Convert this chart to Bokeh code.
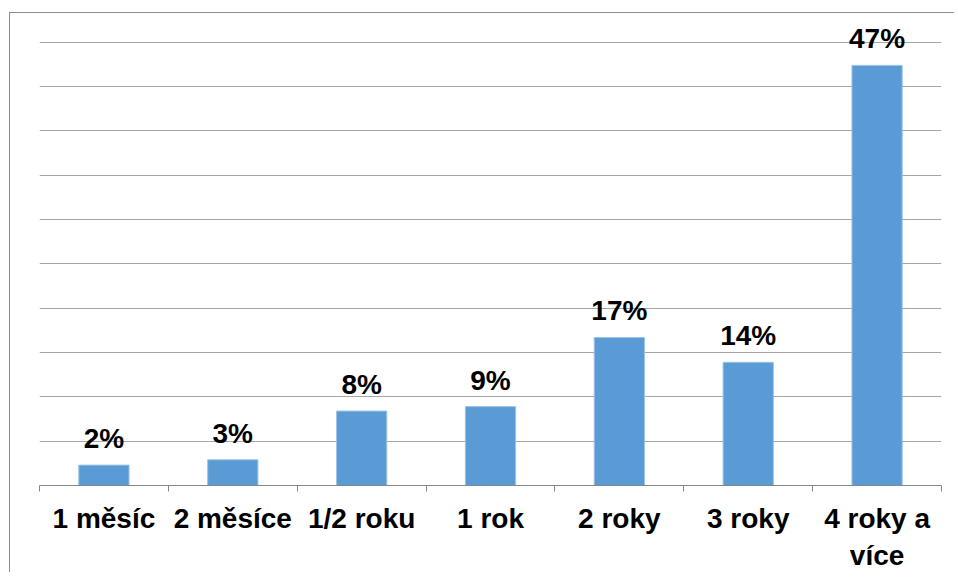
from bokeh.plotting import figure
from bokeh.models import ColumnDataSource, FixedTicker, Range1d, LabelSet
from bokeh.core.properties import value
from bokeh.embed import file_html
from bokeh.resources import INLINE

categories = ["1 měsíc", "2 měsíce", "1/2 roku", "1 rok", "2 roky", "3 roky", "4 roky a\nvíce"]
values = [2.3, 2.9, 8.4, 8.9, 16.7, 13.9, 47.4]
labels = ["2%", "3%", "8%", "9%", "17%", "14%", "47%"]
grid_ticks = [5, 10, 15, 20, 25, 30, 35, 40, 45, 50]

xs = [i + 0.5 for i in range(len(categories))]
src = ColumnDataSource(dict(x=xs, top=values, label=labels))

p = figure(width=945, height=560, output_backend="svg", toolbar_location=None,
           x_range=Range1d(0, len(categories)), y_range=Range1d(0, 53.14),
           min_border_left=29, min_border_right=14, min_border_top=1, min_border_bottom=77,
           styles={"border-top": "1px solid #8c8c8c", "border-left": "1px solid #8c8c8c",
                   "margin-top": "12px", "margin-left": "9px"})
p.outline_line_color = None
p.background_fill_color = "white"

p.vbar(x="x", top="top", width=0.39, bottom=0, source=src,
       fill_color="#5B9BD5", line_color="#9DC3E6", line_width=1)

p.add_layout(LabelSet(x="x", y="top", text="label", source=src,
                      text_align="center", text_baseline="alphabetic", y_offset=17,
                      text_font=value("Liberation Sans"), text_font_style="bold",
                      text_font_size="28px", text_color="black"))

p.yaxis.visible = False
p.ygrid.ticker = FixedTicker(ticks=grid_ticks)
p.ygrid.grid_line_color = "#a6a6a6"
p.ygrid.grid_line_width = 1
p.xgrid.visible = False

ax = p.xaxis[0]
ax.ticker = FixedTicker(ticks=xs, minor_ticks=list(range(len(categories) + 1)))
ax.major_label_overrides = {x: c for x, c in zip(xs, categories)}
ax.major_tick_line_color = None
ax.minor_tick_line_color = "#868686"
ax.minor_tick_in = 0
ax.minor_tick_out = 6
ax.axis_line_color = "#868686"
ax.axis_line_width = 1
ax.major_label_text_font = "Liberation Sans"
ax.major_label_text_font_style = "bold"
ax.major_label_text_font_size = "28px"
ax.major_label_text_color = "black"
ax.major_label_standoff = 11

open("out.html", "w").write(file_html(p, INLINE))
